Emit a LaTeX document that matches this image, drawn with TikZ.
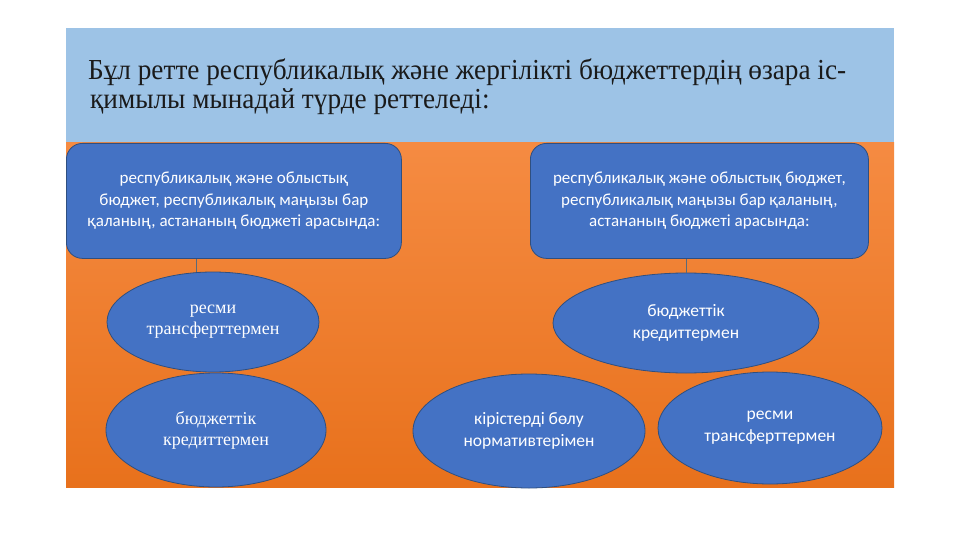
\documentclass[tikz,border=0pt]{standalone}
\usepackage{fontspec}
\setmainfont{Liberation Serif}
\newfontfamily\boxfont{Carlito}
\newfontfamily\titlefont[FakeStretch=0.94]{Liberation Serif}
\usetikzlibrary{shapes.geometric}
\definecolor{hdrblue}{HTML}{9DC3E6}
\definecolor{orgtop}{HTML}{F58B42}
\definecolor{orgbot}{HTML}{E8711C}
\definecolor{nodeblue}{HTML}{4472C4}
\definecolor{nodeedge}{HTML}{2F4F80}
\definecolor{linecol}{HTML}{5A6A7A}
\definecolor{titlecol}{HTML}{1A1A1A}
\tikzset{
  topbox/.style={draw=nodeedge, line width=0.8pt, fill=nodeblue, rounded corners=16pt,
    text=white, font=\boxfont\fontsize{17}{21.5}\selectfont, align=center,
    minimum width=335pt, minimum height=115pt, inner sep=2pt, anchor=north west},
  ellserif/.style={ellipse, draw=nodeedge, line width=0.8pt, fill=nodeblue, text=white,
    font=\fontsize{18}{21}\selectfont, align=center, inner sep=0pt},
  ellsans/.style={ellipse, draw=nodeedge, line width=0.8pt, fill=nodeblue, text=white,
    font=\boxfont\fontsize{17.5}{22}\selectfont, align=center, inner sep=0pt},
  titletext/.style={anchor=base west, text=titlecol, font=\titlefont\fontsize{29}{30}\selectfont, inner sep=0pt},
  conn/.style={draw=linecol, line width=0.8pt}
}
\begin{document}
\begin{tikzpicture}[x=1pt,y=-1pt]
\useasboundingbox (0,0) rectangle (960,540);
\fill[white] (0,0) rectangle (960,540);
\fill[hdrblue] (66,28) rectangle (894,143);
\shade[top color=orgtop, bottom color=orgbot] (66,143) rectangle (894,487);
\node[titletext] (t1) at (88,80) {Бұл ретте республикалық және жергілікті бюджеттердің өзара іс-};
\node[titletext] (t2) at (90,109) {қимылы мынадай түрде реттеледі:};
\node[topbox] (lb) at (66,143) {республикалық және облыстық\\бюджет, республикалық маңызы бар\\қаланың, астананың бюджеті арасында:};
\node[topbox, minimum width=338pt] (rb) at (530,143) {республикалық және облыстық бюджет,\\республикалық маңызы бар қаланың,\\астананың бюджеті арасында:};
\node[ellserif, minimum width=212pt, minimum height=100pt] (l1) at (213,322) {ресми\\трансферттермен};
\node[ellserif, minimum width=220pt, minimum height=114pt] (l2) at (216,430) {бюджеттік\\кредиттермен};
\node[ellsans, minimum width=266pt, minimum height=100pt] (r1) at (686,323) {бюджеттік\\кредиттермен};
\node[ellsans, minimum width=232pt, minimum height=114pt] (m3) at (529,431) {кірістерді бөлу\\нормативтерімен};
\node[ellsans, minimum width=224pt, minimum height=112pt] (r3) at (770,428) {ресми\\трансферттермен};
\draw[conn] (lb.south -| 196,0) -- (l1.north -| 196,0);
\draw[conn] (rb.south -| 686,0) -- (r1.north);
\end{tikzpicture}
\end{document}
